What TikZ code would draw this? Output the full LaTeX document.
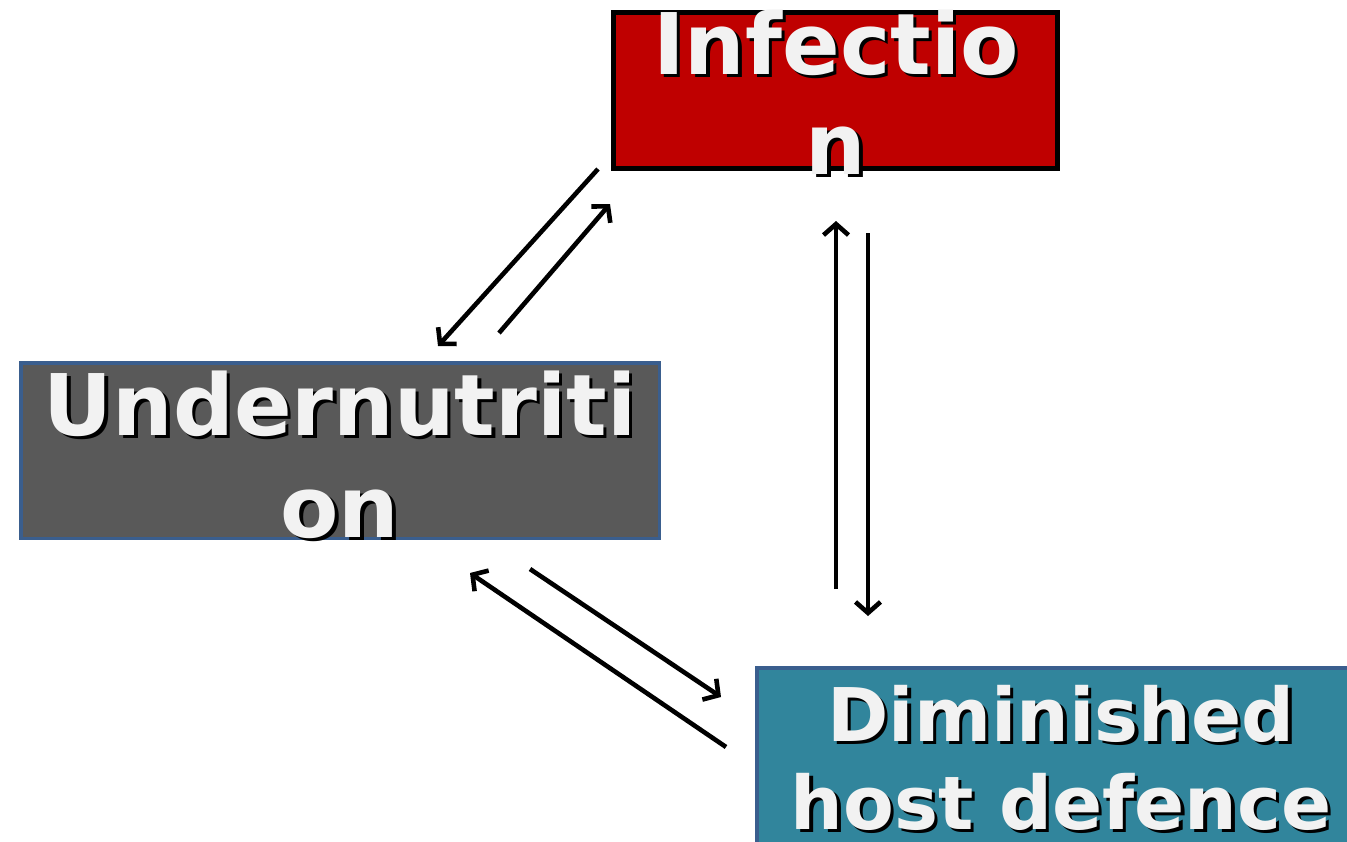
\documentclass[tikz,border=0pt]{standalone}
\usepackage{fontspec}
\setmainfont{DejaVu Sans}
\usetikzlibrary{arrows.meta}
\definecolor{infred}{HTML}{BF0000}
\definecolor{undgray}{HTML}{595959}
\definecolor{dimteal}{HTML}{31859C}
\definecolor{bordblue}{HTML}{3A5E8E}
\definecolor{txtwhite}{HTML}{F2F2F2}
\newcommand\shline[1]{\leavevmode\rlap{\kern3.5pt\raisebox{-3.5pt}{\textcolor{black}{#1}}}\textcolor{txtwhite}{#1}}
\tikzset{
  boxnode/.style={draw, line width=#1, inner sep=0pt, outer sep=0pt},
  bigtext/.style={inner sep=0pt, anchor=base, font=\fontsize{85}{100}\selectfont\bfseries},
  midtext/.style={inner sep=0pt, anchor=base, font=\fontsize{74}{88}\selectfont\bfseries},
  arr/.style={line width=4.6pt, -{Straight Barb[length=11pt,width=25pt]}}
}
\begin{document}
\begin{tikzpicture}[x=1pt,y=-1pt]
\useasboundingbox (0,0) rectangle (1347,841);
\begin{scope}
\clip (0,0) rectangle (1347,841);
% boxes
\node[boxnode=5pt, draw=black, fill=infred, minimum width=444pt, minimum height=156pt] (inf) at (835.5,90.5) {};
\node[boxnode=3.5pt, draw=bordblue, fill=undgray, minimum width=638.5pt, minimum height=175.5pt] (und) at (340,450.5) {};
\node[boxnode=4pt, draw=bordblue, fill=dimteal, minimum width=620pt, minimum height=200pt] (dim) at (1067,768) {};
% texts
\node[bigtext] (inf1) at (836,74) {\shline{Infectio}};
\node[bigtext] (inf2) at (836,174) {\shline{n}};
\node[bigtext] (und1) at (340,435) {\shline{Undernutriti}};
\node[bigtext] (und2) at (340,537) {\shline{on}};
\node[midtext] (dim1) at (1061,741) {\shline{Diminished}};
\node[midtext] (dim2) at (1061,829) {\shline{host defence}};
\end{scope}
% arrow end points
\coordinate (a1s) at (598,169);
\coordinate (a1e) at (438,346);
\coordinate (a2s) at (499,333);
\coordinate (a2e) at (610,204);
\coordinate (a3s) at (836,589);
\coordinate (a3e) at (836,221);
\coordinate (a4s) at (868,233);
\coordinate (a4e) at (868,616);
\coordinate (a5s) at (530,569);
\coordinate (a5e) at (721,697);
\coordinate (a6s) at (726,747);
\coordinate (a6e) at (470,573);
\draw[arr] (a1s) -- (a1e);
\draw[arr] (a2s) -- (a2e);
\draw[arr] (a3s) -- (a3e);
\draw[arr] (a4s) -- (a4e);
\draw[arr] (a5s) -- (a5e);
\draw[arr] (a6s) -- (a6e);
\end{tikzpicture}
\end{document}
